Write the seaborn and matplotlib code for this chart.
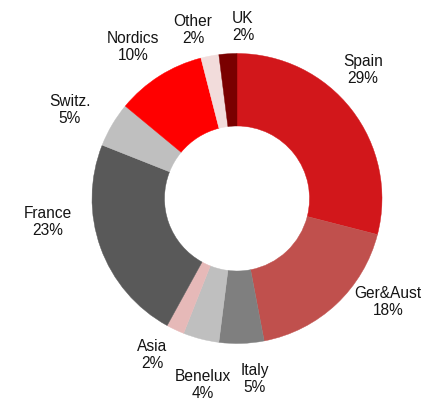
import matplotlib
matplotlib.use("Agg")
import matplotlib.pyplot as plt
import seaborn as sns

sns.set_theme(style="white")
plt.rcParams["font.family"] = ["Liberation Sans", "DejaVu Sans"]

# Revenue split by region (%), clockwise from 12 o'clock
regions = ["Spain", "Ger&Aust", "Italy", "Benelux", "Asia",
           "France", "Switz.", "Nordics", "Other", "UK"]
shares = [29, 18, 5, 4, 2, 23, 5, 10, 2, 2]
colors = ["#D2171B", "#C0504D", "#7F7F7F", "#BFBFBF", "#E6B9B8",
          "#595959", "#BFBFBF", "#FF0000", "#F2DCDB", "#7A0000"]

# label anchor points (axes data units, pie centred at origin, radius 1)
label_pos = [(0.869, 0.886), (1.041, -0.714), (0.124, -1.245), (-0.234, -1.288),
             (-0.586, -1.079), (-1.303, -0.162), (-1.152, 0.610), (-0.717, 1.045),
             (-0.303, 1.162), (0.041, 1.183)]

W, H = 426, 403
cx, cy, r = 237, 204.5, 145
fig = plt.figure(figsize=(W / 100, H / 100), dpi=100)
ax = fig.add_axes([0, 0, 1, 1])

wedges, _ = ax.pie(shares, colors=colors, startangle=90, counterclock=False,
                   radius=1.0, wedgeprops=dict(width=0.50, linewidth=0.3))
for w in wedges:
    w.set_edgecolor(w.get_facecolor())

for name, val, (x, y) in zip(regions, shares, label_pos):
    ax.text(x, y, f"{name}\n{val}%", ha="center", va="center",
            fontsize=11.2, color="#141414", linespacing=1.2)

ax.set_xlim(-cx / r, (W - cx) / r)
ax.set_ylim(-cy / r, (H - cy) / r)
ax.set_aspect("auto")
ax.axis("off")
fig.savefig("out.png", dpi=100)
